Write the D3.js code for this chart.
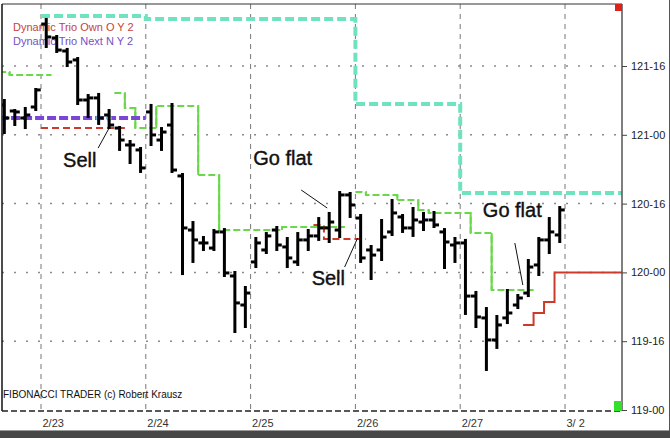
<!DOCTYPE html>
<html><head><meta charset="utf-8">
<script src="https://cdn.jsdelivr.net/npm/d3@7"></script>
<style>body{margin:0;background:#fff}svg{display:block}</style>
</head><body><svg id="c" width="670" height="438"></svg>
<script>
// ---------------- DATA ----------------
const dayLabels = ["2/23","2/24","2/25","2/26","2/27","3/ 2"];
const dayStartBar = [4,14,24,34,44,54];
const yTickValues = [119, 119.5, 120, 120.5, 121, 121.5];
const yTickLabels = ["119-00","119-16","120-00","120-16","121-00","121-16"];

const openP  = [121.217,121.173,121.122,121.202, 121.805,121.704,121.609,121.544,121.253,121.268,121.144,121.049,120.926,120.890,
  121.166,120.962,121.071,120.701,120.308,120.214,120.177,120.294,119.974,119.763,
  120.076,120.163,120.308,120.185,120.076,120.236,120.265,120.323,120.308,120.563,
  120.395,120.163,120.163,120.294,120.403,120.323,120.366,120.381,120.294,120.199,
  120.214,119.828,119.669,119.509,119.669,119.763,119.850,120.054,120.236,120.272];
const highP  = [121.253,121.180,121.195,121.333, 121.842,121.718,121.624,121.558,121.289,121.297,121.180,121.057,120.955,120.904,
  121.217,121.049,121.224,120.715,120.366,120.257,120.308,120.315,120.003,119.894,
  120.250,120.286,120.330,120.250,120.286,120.308,120.395,120.432,120.584,120.577,
  120.417,120.192,120.381,120.526,120.417,120.468,120.432,120.439,120.315,120.250,
  120.236,119.858,119.741,119.683,119.872,119.836,120.090,120.250,120.395,120.475];
const lowP   = [121.013,121.071,121.049,121.180, 121.638,121.602,121.500,121.224,121.129,121.079,121.049,120.890,120.795,120.730,
  120.926,120.890,120.730,119.988,120.076,120.163,120.163,119.974,119.567,119.603,
  120.039,120.141,120.163,120.039,120.054,120.163,120.236,120.221,120.257,120.403,
  120.076,119.952,120.090,120.272,120.294,120.265,120.308,120.330,120.032,120.076,
  119.698,119.603,119.291,119.451,119.632,119.741,119.828,119.981,120.141,120.221];
const closeP = [121.122,121.166,121.144,121.326, 121.711,121.616,121.529,121.253,121.268,121.122,121.071,120.962,120.926,120.759,
  120.999,121.020,120.744,120.323,120.236,120.214,120.294,119.996,119.778,119.850,
  120.214,120.265,120.199,120.105,120.236,120.265,120.323,120.366,120.563,120.490,
  120.105,120.126,120.257,120.432,120.323,120.381,120.381,120.345,120.221,120.214,
  119.828,119.676,119.509,119.618,119.705,119.814,120.039,120.236,120.294,120.454];

// step series as runs: [fromBar, toBar, price]
const trioOwnDashed = [[4,11,121.049],[30,30,120.345],[31,34,120.243]];
const trioOwnSolid  = [[50,50,119.618],[51,51,119.705],[52,52,119.785],[53,59,120.0]];
const trioNext      = [[0,13,121.122]];
const greenStop = [[0,0,121.456],[1,4,121.435],[11,11,121.304],[12,12,121.195],[13,14,121.049],
  [15,18,121.209],[19,20,120.708],[21,26,120.308],[27,32,120.330],[34,34,120.584],[35,37,120.563],
  [38,39,120.526],[40,40,120.454],[41,44,120.432],[45,46,120.286],[47,50,119.872]];
const cyanLevel = [[4,13,121.863],[14,33,121.842],[34,43,121.224],[44,59,120.577]];
const nextDots = [0,9,10];

const legendLabels = ["Dynamic Trio Own O Y 2","Dynamic Trio Next N Y 2"];
const annotations = [
  {label:"Sell",    bar:10, price:121.049},
  {label:"Go flat", bar:31, price:120.468},
  {label:"Sell",    bar:34, price:120.250},
  {label:"Go flat", bar:49, price:119.908}
];
const footer = "FIBONACCI TRADER (c) Robert Krausz";

// ---------------- DRAW ----------------
const FONT = "'Liberation Sans', Arial, sans-serif";
const svg = d3.select("#c");
const L = 2, R = 622, T = 4, B = 411;

const x = d3.scaleLinear().domain([3.5, 53.5]).range([41, 565]);
const y = d3.scaleLinear().domain([119, 121.5]).range([410, 66]);

svg.append("rect").attr("width",670).attr("height",438).attr("fill","#fff");
svg.append("defs").append("clipPath").attr("id","plot")
  .append("rect").attr("x",L).attr("y",T).attr("width",R-L).attr("height",B-T);

// grid
const grid = svg.append("g");
grid.selectAll("line.h").data(yTickValues.slice(1)).join("line")
  .attr("x1",L).attr("x2",R).attr("y1",d=>y(d)).attr("y2",d=>y(d))
  .attr("stroke","#8a8a8a").attr("stroke-width",1.5).attr("stroke-dasharray","2,10");
grid.selectAll("line.v").data(dayStartBar).join("line")
  .attr("x1",d=>x(d-0.5)).attr("x2",d=>x(d-0.5)).attr("y1",T).attr("y2",B)
  .attr("stroke","#777").attr("stroke-width",1).attr("stroke-dasharray","5,5");

// legend text (under bars)
svg.selectAll("text.leg").data(legendLabels).join("text")
  .attr("x",13).attr("y",(d,i)=>31+i*14).text(d=>d)
  .attr("font-family",FONT).attr("font-size",11)
  .attr("fill",(d,i)=>i===0?"#c8423a":"#7650c8");

// step helpers
function segments(runs){
  const pts=[]; runs.forEach(([a,b,v])=>{for(let i=a;i<=b;i++) pts.push([i,v]);});
  const segs=[]; let cur=null;
  pts.forEach(p=>{ if(cur && p[0]===cur[cur.length-1][0]+1) cur.push(p); else {cur=[p]; segs.push(cur);} });
  return segs.map(s=>[[s[0][0]-0.5,s[0][1]], ...s, [s[s.length-1][0]+0.5, s[s.length-1][1]]]);
}
const stepLine = d3.line().x(d=>x(d[0])).y(d=>y(d[1])).curve(d3.curveStep);
const lines = svg.append("g").attr("clip-path","url(#plot)");
function drawStep(runs, color, width, dash){
  lines.append("g").selectAll("path").data(segments(runs)).join("path")
    .attr("d",stepLine).attr("fill","none").attr("stroke",color)
    .attr("stroke-width",width).attr("stroke-dasharray",dash);
}
drawStep(cyanLevel, "#6fe3bf", 4, "9,4");
drawStep(greenStop, "#6ad84a", 2, "7,3");
// solid vertical connectors of green
const gv=[]; segments(greenStop).forEach(s=>{for(let k=1;k<s.length-2;k++){ if(s[k][1]!==s[k+1][1]) gv.push([s[k][0]+0.5,s[k][1],s[k+1][1]]);}});
lines.selectAll("line.gv").data(gv).join("line")
  .attr("x1",d=>x(d[0])).attr("x2",d=>x(d[0])).attr("y1",d=>y(d[1])).attr("y2",d=>y(d[2]))
  .attr("stroke","#6ad84a").attr("stroke-width",2);
drawStep(trioOwnDashed, "#cc3a2c", 2, "7,4");
drawStep(trioOwnSolid, "#cc3a2c", 2, null);

// bars
const bars = openP.map((o,i)=>({i,o,h:highP[i],l:lowP[i],c:closeP[i]}));
const bg = svg.append("g").attr("clip-path","url(#plot)").attr("stroke","#000").attr("stroke-width",3);
const bar = bg.selectAll("g").data(bars).join("g");
bar.append("line").attr("x1",d=>x(d.i)).attr("x2",d=>x(d.i)).attr("y1",d=>y(d.h)-1).attr("y2",d=>y(d.l)+1);
bar.append("line").attr("x1",d=>x(d.i)-5).attr("x2",d=>x(d.i)).attr("y1",d=>y(d.o)).attr("y2",d=>y(d.o));
bar.append("line").attr("x1",d=>x(d.i)).attr("x2",d=>x(d.i)+5).attr("y1",d=>y(d.c)).attr("y2",d=>y(d.c));

// purple over bars
drawStep(trioNext, "#7a45d8", 4, "9,3");
lines.selectAll("circle.nd").data(nextDots).join("circle")
  .attr("cx",d=>x(d)).attr("cy",y(trioNext[0][2])).attr("r",2.5)
  .attr("fill","#cfe8f5").attr("stroke","#5aa9d6").attr("stroke-width",1);

// frame
svg.append("line").attr("x1",L).attr("x2",R).attr("y1",T).attr("y2",T).attr("stroke","#333").attr("stroke-width",1);
svg.append("line").attr("x1",L).attr("x2",L).attr("y1",T).attr("y2",B).attr("stroke","#111").attr("stroke-width",1.5);
svg.append("line").attr("x1",L).attr("x2",R).attr("y1",B).attr("y2",B).attr("stroke","#222").attr("stroke-width",1.5).attr("stroke-dasharray","6,3");
svg.append("line").attr("x1",R).attr("x2",R).attr("y1",T).attr("y2",B).attr("stroke","#555").attr("stroke-width",1.5);

// scale markers
svg.append("rect").attr("x",R-7).attr("y",T).attr("width",7).attr("height",7).attr("fill","#e0201a");
svg.append("rect").attr("x",R-8).attr("y",B-10).attr("width",8).attr("height",10).attr("fill","#33e02a");

// right axis
const ya = svg.append("g").attr("transform",`translate(${R},0)`)
  .call(d3.axisRight(y).tickValues(yTickValues).tickFormat((d,i)=>yTickLabels[i]).tickSize(5).tickPadding(4));
ya.select(".domain").remove();
ya.selectAll("line").attr("stroke","#444");
ya.selectAll("text").attr("font-family",FONT).attr("font-size",11).attr("fill","#222");

// bottom axis labels
const xa = svg.append("g").attr("transform",`translate(0,${B})`)
  .call(d3.axisBottom(x).tickValues(dayStartBar.map(d=>d-0.5)).tickFormat((d,i)=>dayLabels[i]).tickSize(0).tickPadding(8));
xa.select(".domain").remove();
xa.selectAll("text").attr("font-family",FONT).attr("font-size",11).attr("fill","#333")
  .attr("text-anchor","start").attr("dx",1);

// annotations
const layout = [
  {tx:-46, ty:39, ax:-11, ay:20, ex:0, ey:0},
  {tx:-76, ty:-43, ax:-28, ay:-18, ex:-2, ey:0},
  {tx:-49, ty:47, ax:-16, ay:29, ex:-3, ey:0},
  {tx:-35, ty:-68, ax:-3, ay:-42, ex:5, ey:0}
];
const ann = svg.append("g");
annotations.forEach((a,k)=>{
  const px = x(a.bar), py = y(a.price), lo = layout[k];
  ann.append("line").attr("x1",px+lo.ax).attr("y1",py+lo.ay).attr("x2",px+lo.ex).attr("y2",py+lo.ey)
    .attr("stroke","#111").attr("stroke-width",1);
  ann.append("text").attr("x",px+lo.tx).attr("y",py+lo.ty).text(a.label)
    .attr("font-family",FONT).attr("font-size",20).attr("fill","#111")
    .attr("stroke","#111").attr("stroke-width",0.4);
});

// footer
svg.append("text").attr("x",3).attr("y",398).text(footer)
  .attr("font-family",FONT).attr("font-size",10).attr("fill","#111");

// window frame
svg.append("rect").attr("x",0).attr("y",431).attr("width",670).attr("height",7).attr("fill","#474747");
svg.append("line").attr("x1",0).attr("x2",670).attr("y1",430.5).attr("y2",430.5).attr("stroke","#999");
svg.append("line").attr("x1",669.5).attr("x2",669.5).attr("y1",0).attr("y2",431).attr("stroke","#555");
</script></body></html>
